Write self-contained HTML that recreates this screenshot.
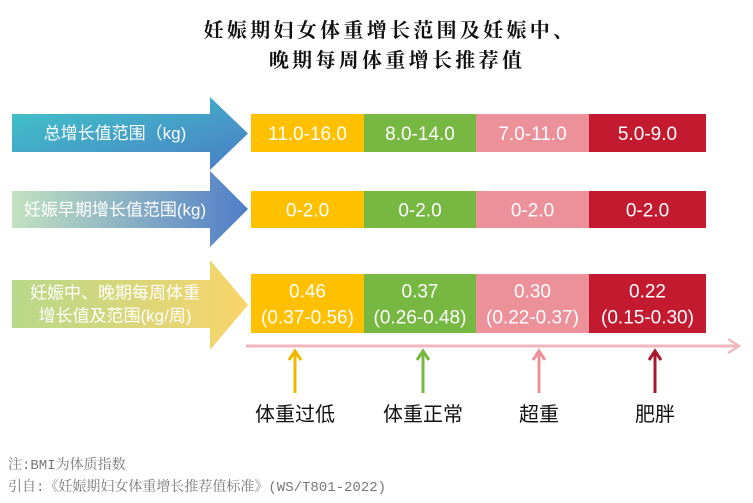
<!DOCTYPE html>
<html><head><meta charset="utf-8">
<style>
body{margin:0;background:#fff;width:753px;height:503px;overflow:hidden}
svg{display:block}
</style></head>
<body>
<svg id="chart" width="753" height="503" xmlns="http://www.w3.org/2000/svg">
<defs>
<linearGradient id="g1" x1="0" y1="0" x2="1" y2="1"><stop offset="0" stop-color="#3fc8c8"/><stop offset="1" stop-color="#4a7cc6"/></linearGradient>
<linearGradient id="g2" x1="0" y1="0" x2="1" y2="0"><stop offset="0" stop-color="#c3e2c0"/><stop offset="1" stop-color="#4f7dc8"/></linearGradient>
<linearGradient id="g3" x1="0" y1="0" x2="1" y2="0"><stop offset="0" stop-color="#b8d88a"/><stop offset="1" stop-color="#f9d56a"/></linearGradient>
</defs>
<g font-family="'Noto Serif CJK SC',serif" font-weight="bold" font-size="20" fill="#111" text-anchor="middle">
<text x="390" y="37" letter-spacing="3.3">妊娠期妇女体重增长范围及妊娠中、</text>
<text x="397" y="67" letter-spacing="3.3">晚期每周体重增长推荐值</text>
</g>
<g id="arrows"></g>
<g id="boxes"></g>
<line x1="246" y1="346" x2="738" y2="346" stroke="#f2b6bd" stroke-width="3"/>
<polyline points="728,339 739,346 728,353" fill="none" stroke="#f2b6bd" stroke-width="2.5"/>
<g id="cats"></g>
<g font-family="'Liberation Mono','Noto Serif CJK SC',monospace" font-size="14" fill="#777">
<text x="8" y="469">注:BMI为体质指数</text>
<text x="8" y="491">引自:《妊娠期妇女体重增长推荐值标准》(WS/T801-2022)</text>
</g>
</svg>
<script>
const rowLabels=[["总增长值范围（kg)"],["妊娠早期增长值范围(kg)"],["妊娠中、晚期每周体重","增长值及范围(kg/周)"]];
const totalGain=["11.0-16.0","8.0-14.0","7.0-11.0","5.0-9.0"];
const earlyGain=["0-2.0","0-2.0","0-2.0","0-2.0"];
const weeklyMean=["0.46","0.37","0.30","0.22"];
const weeklyRange=["(0.37-0.56)","(0.26-0.48)","(0.22-0.37)","(0.15-0.30)"];
const categories=["体重过低","体重正常","超重","肥胖"];
const colors=["#FFC000","#77B843","#EC919A","#C41A30"];
const arrowColors=["#f0b800","#77b843","#ec919a","#a8182c"];

const NS="http://www.w3.org/2000/svg";
function mk(t,a,p){const e=document.createElementNS(NS,t);for(const k in a)e.setAttribute(k,a[k]);p.appendChild(e);return e;}
const rows=[{y0:114,y1:152,ht:97,hb:170,fill:"url(#g1)"},{y0:191,y1:228,ht:171,hb:247,fill:"url(#g2)"},{y0:280,y1:328,ht:260,hb:350,fill:"url(#g3)"}];
const arrowsG=document.getElementById('arrows');
rows.forEach((r,i)=>{
  const p=mk('polygon',{points:`12,${r.y0} 210,${r.y0} 210,${r.ht} 248,${(r.ht+r.hb)/2} 210,${r.hb} 210,${r.y1} 12,${r.y1}`,fill:r.fill},arrowsG);
  
  
  const lines=rowLabels[i];
  lines.forEach((s,j)=>{
    const t=mk('text',{x:115,y:(r.y0+r.y1)/2+6+(j-(lines.length-1)/2)*23,'text-anchor':'middle','font-size':17,fill:'#fff','font-family':"'Liberation Sans','Noto Sans CJK SC',sans-serif"},arrowsG);
    t.textContent=s;
    
    
  });
});
const bx=[251,364,476,589,706];
const boxRows=[{y0:114,y1:152,v:[totalGain]},{y0:191,y1:228,v:[earlyGain]},{y0:274,y1:333,v:[weeklyMean,weeklyRange]}];
const boxesG=document.getElementById('boxes');
boxRows.forEach((r,ri)=>{
  colors.forEach((c,ci)=>{
    const rc=mk('rect',{x:bx[ci],y:r.y0,width:bx[ci+1]-bx[ci],height:r.y1-r.y0,fill:c},boxesG);
    
    
    r.v.forEach((arr,j)=>{
      const cy=(r.y0+r.y1)/2+7+(j-(r.v.length-1)/2)*26;
      const t=mk('text',{x:(bx[ci]+bx[ci+1])/2,y:cy,'text-anchor':'middle','font-size':19,fill:'#fff','font-family':"'Liberation Sans',sans-serif"},boxesG);
      t.textContent=arr[ci];
      
      
    });
  });
});
const catX=[295,423,539,655];
const catsG=document.getElementById('cats');
categories.forEach((c,i)=>{
  const x=catX[i];
  const g=mk('g',{stroke:arrowColors[i],'stroke-width':3,fill:'none'},catsG);
  
  
  mk('line',{x1:x,y1:393,x2:x,y2:352},g);
  mk('polyline',{points:`${x-6},360 ${x},351 ${x+6},360`},g);
  const t=mk('text',{x:x,y:421,'text-anchor':'middle','font-size':20,fill:'#111','font-family':"'Noto Sans CJK SC',sans-serif"},catsG);
  t.textContent=c;
  
  
});
</script>
</body></html>
